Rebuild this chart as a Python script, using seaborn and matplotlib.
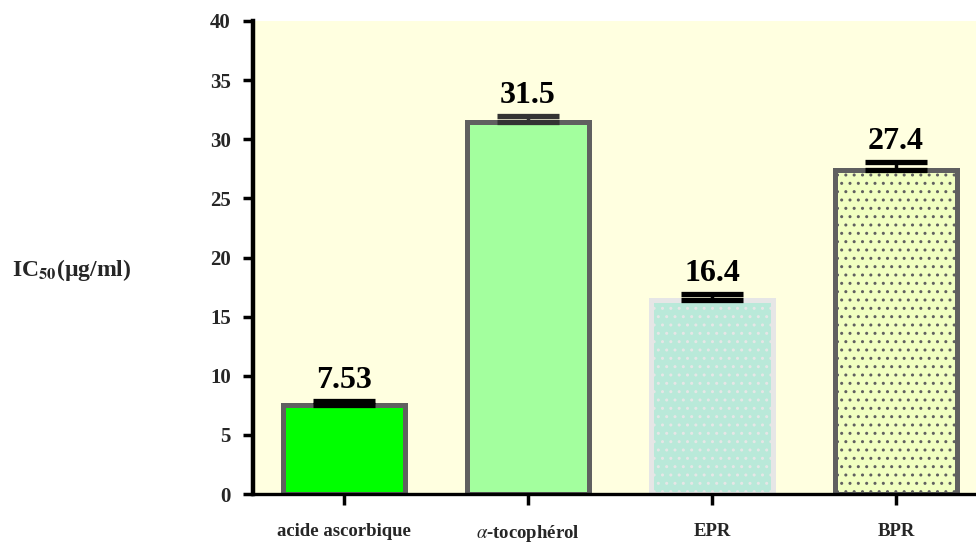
import matplotlib
matplotlib.use("Agg")
import matplotlib.pyplot as plt
import seaborn as sns
import pandas as pd

# ---- data ----
categories = ["acide ascorbique", r"$\alpha$-tocophérol", "EPR", "BPR"]
ic50 = [7.53, 31.5, 16.4, 27.4]
err_up = [0.35, 0.5, 0.5, 0.7]
value_labels = ["7.53", "31.5", "16.4", "27.4"]
yticks = [0, 5, 10, 15, 20, 25, 30, 35, 40]

# ---- style ----
fills = ["#00FF00", "#A3FF9E", "#B9E9D9", "#F1FFC1"]
edges = ["#606060", "#606060", "#E6E6E6", "#606060"]
hatches = [None, None, "..", ".."]
hatch_cols = [None, None, "#F4F4F4", "#808080"]
err_cols = ["#000000", "#333333", "#000000", "#000000"]

sns.set_theme(style="white")
plt.rcParams["font.family"] = ["Liberation Serif", "DejaVu Serif"]
plt.rcParams["mathtext.fontset"] = "stix"

fig = plt.figure(figsize=(9.76, 5.47), dpi=100)
ax = fig.add_axes([253 / 976, 1 - 494 / 547, 1 - 253 / 976, (494 - 21) / 547])
ax.set_facecolor("#FFFFE0")

df = pd.DataFrame({"cat": categories, "val": ic50})
sns.barplot(data=df, x="cat", y="val", hue="cat", palette=fills, legend=False,
            saturation=1, width=0.66, linewidth=3.6, ax=ax, errorbar=None, zorder=2)

for p, ec, h, hc in zip(ax.patches, edges, hatches, hatch_cols):
    p.set_edgecolor(ec)
    p.set_linewidth(3.6)
    if h:
        p.set_hatch(h)
        try:
            p.set_hatchcolor(hc)
        except Exception:
            pass

for i, (v, e, c) in enumerate(zip(ic50, err_up, err_cols)):
    ax.errorbar(i, v, yerr=[[0], [e]], fmt="none", ecolor=c, elinewidth=2.5,
                capsize=22, capthick=3.8, zorder=3)
    ax.text(i, v + e + 0.5, value_labels[i], ha="center", va="bottom",
            fontsize=23, fontweight="bold", color="black")

ax.set_xlim(-0.495, 3.435)
ax.set_ylim(0, 40)
ax.set_yticks(yticks)
ax.set_yticklabels([str(t) for t in yticks], fontsize=15, fontweight="bold")
ax.set_xticks(range(len(categories)))
ax.set_xticklabels(categories, fontsize=13.5, fontweight="bold")
ax.set_xlabel("")
ax.set_ylabel("")

for s in ["top", "right"]:
    ax.spines[s].set_visible(False)
ax.spines["left"].set_linewidth(3.2)
ax.spines["left"].set_color("black")
ax.spines["bottom"].set_linewidth(2.4)
ax.spines["bottom"].set_color("black")
ax.tick_params(axis="y", direction="out", length=7, width=2.5, color="black", pad=9, left=True)
ax.tick_params(axis="x", direction="out", length=8, width=2.5, color="black", pad=13, bottom=True)

fig.text(12 / 976, 1 - 270 / 547, r"IC$_{\mathbf{50}}$(µg/ml)", fontsize=17, fontweight="bold",
         ha="left", va="center")

fig.savefig("out.png", dpi=100)
